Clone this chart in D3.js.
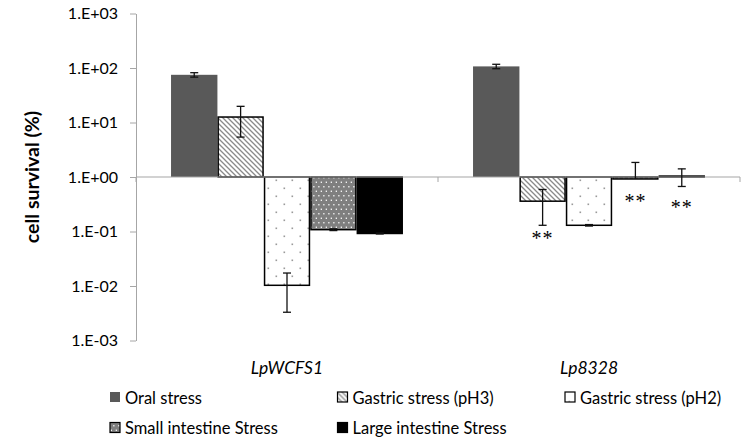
<!DOCTYPE html>
<html>
<head>
<meta charset="utf-8">
<script src="https://cdn.jsdelivr.net/npm/d3@7"></script>
<style>
  body { margin: 0; background: #fff; }
  svg { display: block; }
  text { font-family: Lato, "Open Sans", sans-serif; fill: #000; }
</style>
</head>
<body>
<div id="chartArea"></div>
<script>
// chart values
let categories = ["LpWCFS1", "Lp8328"];
let seriesNames = ["Oral stress", "Gastric stress (pH3)", "Gastric stress (pH2)",
                   "Small intestine Stress", "Large intestine Stress"];
let oralStress      = [75, 107];
let gastricPH3      = [12.6, 0.36];
let gastricPH2      = [0.0103, 0.13];
let smallIntestine  = [0.108, 0.92];
let largeIntestine  = [0.092, 1.04];
let oralErr         = [7, 10];
let gastricPH3Err   = [7.2, 0.23];
let gastricPH2Err   = [0.007, 0.004];
let smallErr        = [0.004, 0.93];
let largeErr        = [0.002, 0.37];
let tickValues = [1e-3, 1e-2, 1e-1, 1e0, 1e1, 1e2, 1e3];
let tickLabels = ["1.E-03", "1.E-02", "1.E-01", "1.E+00", "1.E+01", "1.E+02", "1.E+03"];
// significance marks: which category / series, and the level they sit at
let sigCategory = ["Lp8328", "Lp8328", "Lp8328"];
let sigSeries   = [1, 3, 4];
let sigLevel    = [0.085, 0.42, 0.316];
let sigText     = ["**", "**", "**"];

let seriesValues = [oralStress, gastricPH3, gastricPH2, smallIntestine, largeIntestine];
let seriesErrors = [oralErr, gastricPH3Err, gastricPH2Err, smallErr, largeErr];

let width = 751, height = 443;
let margin = { left: 136, right: 11, top: 13.5, bottom: 102.5 };

let svg = d3.select('#chartArea').append('svg')
   .attr('width', width)
   .attr('height', height);

// patterns
let defs = svg.append('defs');
let hatch = defs.append('pattern').attr('id', 'hatch')
   .attr('patternUnits', 'userSpaceOnUse').attr('width', 5).attr('height', 5);
hatch.append('rect').attr('width', 5).attr('height', 5).attr('fill', '#fff');
hatch.append('path').attr('d', 'M-1,-1 L6,6 M-1,4 L1,6 M4,-1 L6,1')
   .attr('stroke', '#8a8a8a').attr('stroke-width', 1.3);

let sparse = defs.append('pattern').attr('id', 'sparse')
   .attr('patternUnits', 'userSpaceOnUse').attr('width', 16).attr('height', 16);
sparse.append('rect').attr('width', 16).attr('height', 16).attr('fill', '#fff');
sparse.append('rect').attr('x', 3.5).attr('y', 3.5).attr('width', 1.6).attr('height', 1.6).attr('fill', '#9a9a9a');
sparse.append('rect').attr('x', 11.5).attr('y', 11.5).attr('width', 1.6).attr('height', 1.6).attr('fill', '#9a9a9a');

let dense = defs.append('pattern').attr('id', 'dense')
   .attr('patternUnits', 'userSpaceOnUse').attr('width', 5).attr('height', 9);
dense.append('rect').attr('width', 5).attr('height', 9).attr('fill', '#7f7f7f');
dense.append('rect').attr('x', 0.7).attr('y', 1.6).attr('width', 1.3).attr('height', 1.3).attr('fill', '#fff');
dense.append('rect').attr('x', 3.2).attr('y', 6.1).attr('width', 1.3).attr('height', 1.3).attr('fill', '#fff');

let fills   = ['#595959', 'url(#hatch)', 'url(#sparse)', 'url(#dense)', '#000'];
let strokes = ['none', '#000', '#000', '#000', '#000'];

// scales
let y = d3.scaleLog().domain([1e-3, 1e3])
   .range([height - margin.bottom, margin.top]);
let x0 = d3.scaleBand().domain(categories)
   .range([margin.left, width - margin.right])
   .paddingInner(0.232).paddingOuter(0.116);
let x1 = d3.scaleBand().domain(d3.range(seriesNames.length))
   .range([0, x0.bandwidth()]);

// y axis
let yAxis = svg.append('g')
   .attr('transform', `translate(${margin.left},0)`)
   .call(d3.axisLeft(y).tickValues(tickValues)
      .tickFormat((d, i) => tickLabels[i]).tickSize(6).tickSizeOuter(0).tickPadding(12));
yAxis.select('.domain').attr('stroke', '#a6a6a6');
yAxis.selectAll('.tick line').attr('stroke', '#a6a6a6');
yAxis.selectAll('.tick text')
   .style('font-family', 'Lato, sans-serif').style('font-size', '16px').attr('fill', '#000');

svg.append('text')
   .attr('transform', `translate(31,${y(1)}) rotate(-90)`)
   .attr('text-anchor', 'middle').attr('dominant-baseline', 'central')
   .style('font-size', '19.5px').style('font-weight', 'bold')
   .text('cell survival (%)');

// bars
let data = [];
seriesValues.forEach((vals, s) => {
   vals.forEach((v, c) => {
      data.push({ s: s, cat: categories[c], v: v, e: seriesErrors[s][c] });
   });
});

svg.append('g').selectAll('rect').data(data).enter().append('rect')
   .attr('x', d => x0(d.cat) + x1(d.s) + (d.s > 0 ? 0.75 : 0))
   .attr('y', d => Math.min(y(d.v), y(1)))
   .attr('width', d => x1.bandwidth() - (d.s > 0 ? 1.5 : 0))
   .attr('height', d => Math.abs(y(d.v) - y(1)))
   .attr('fill', d => fills[d.s])
   .attr('stroke', d => strokes[d.s])
   .attr('stroke-width', 1.5);

// baseline at 1 with category separators
svg.append('line')
   .attr('x1', x0.range()[0]).attr('x2', x0.range()[1])
   .attr('y1', y(1)).attr('y2', y(1))
   .attr('stroke', '#a6a6a6').attr('stroke-width', 1.2);
svg.append('g').selectAll('line').data(d3.range(categories.length + 1)).enter().append('line')
   .attr('x1', i => x0.range()[0] + i * x0.step())
   .attr('x2', i => x0.range()[0] + i * x0.step())
   .attr('y1', y(1)).attr('y2', y(1) + 5)
   .attr('stroke', '#a6a6a6');

// error bars
let eb = svg.append('g').attr('stroke', '#111').attr('stroke-width', 1.3);
data.forEach(d => {
   let cx = x0(d.cat) + x1(d.s) + x1.bandwidth() / 2;
   let hi = y(d.v + d.e);
   let lo = d.v - d.e > 0 ? y(d.v - d.e) : y(d.v);
   eb.append('line').attr('x1', cx).attr('x2', cx).attr('y1', hi).attr('y2', lo);
   eb.append('line').attr('x1', cx - 4).attr('x2', cx + 4).attr('y1', hi).attr('y2', hi);
   if (d.v - d.e > 0) {
      eb.append('line').attr('x1', cx - 4).attr('x2', cx + 4).attr('y1', lo).attr('y2', lo);
   }
});

// significance marks
svg.append('g').selectAll('text').data(sigSeries).enter().append('text')
   .attr('x', (s, i) => x0(sigCategory[i]) + x1(s) + x1.bandwidth() / 2)
   .attr('y', (s, i) => y(sigLevel[i]) + 10)
   .attr('text-anchor', 'middle')
   .style('font-family', '"Liberation Serif", serif').style('font-size', '20px')
   .style('letter-spacing', '1px')
   .text((s, i) => sigText[i]);

// category labels
svg.append('g').selectAll('text').data(categories).enter().append('text')
   .attr('x', d => x0(d) + x0.bandwidth() / 2)
   .attr('y', 374)
   .attr('text-anchor', 'middle')
   .style('font-size', '17.5px').style('font-style', 'italic')
   .text(d => d);

// legend
let legend = svg.append('g').selectAll('g').data(seriesNames).enter().append('g')
   .attr('transform', (d, i) => `translate(${110 + (i % 3) * 227.5},${397.5 + Math.floor(i / 3) * 30.5})`);
legend.append('rect')
   .attr('x', 0).attr('y', -5.5).attr('width', 10).attr('height', 10)
   .attr('fill', (d, i) => fills[i])
   .attr('stroke', (d, i) => strokes[i]).attr('stroke-width', 1.2);
legend.append('text')
   .attr('x', 15).attr('y', 0).attr('dominant-baseline', 'central')
   .style('font-size', '16.5px')
   .text(d => d);
</script>
</body>
</html>
